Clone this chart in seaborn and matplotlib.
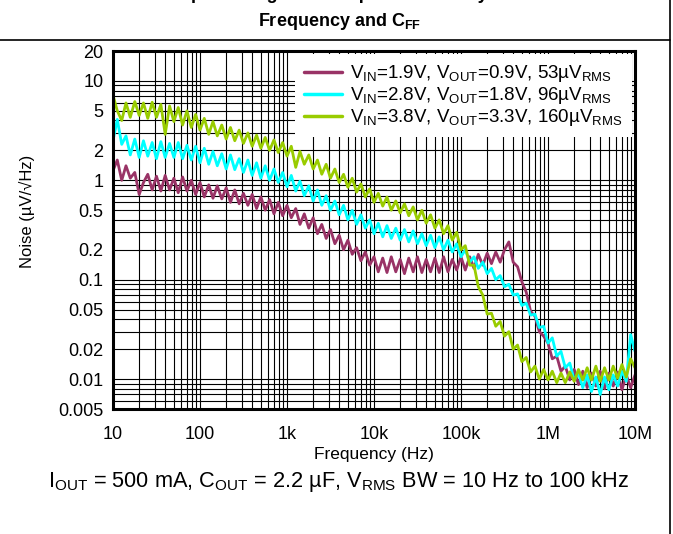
import numpy as np
import pandas as pd
import matplotlib
matplotlib.use("Agg")
import matplotlib.pyplot as plt
import seaborn as sns
from matplotlib.ticker import FixedLocator, FixedFormatter, LogLocator, NullFormatter
from matplotlib.lines import Line2D

# ---------------- data ----------------
freq_hz = [
    10, 11.2, 12.6, 14.1, 15.8, 17.8, 20, 22.4, 25.1, 28.2, 31.6, 35.5, 39.8, 44.7, 50.1, 56.2, 63.1, 70.8, 79.4, 89.1,
    100, 112, 126, 141, 158, 178, 200, 224, 251, 282, 316, 355, 398, 447, 501, 562, 631, 708, 794, 891,
    1.0e3, 1.12e3, 1.26e3, 1.41e3, 1.58e3, 1.78e3, 2.0e3, 2.24e3, 2.51e3, 2.82e3,
    3.16e3, 3.55e3, 3.98e3, 4.47e3, 5.01e3, 5.62e3, 6.31e3, 7.08e3, 7.94e3, 8.91e3,
    1.0e4, 1.12e4, 1.26e4, 1.41e4, 1.58e4, 1.78e4, 2.0e4, 2.24e4, 2.51e4, 2.82e4,
    3.16e4, 3.55e4, 3.98e4, 4.47e4, 5.01e4, 5.62e4, 6.31e4, 7.08e4, 7.94e4, 8.91e4,
    1.0e5, 1.12e5, 1.26e5, 1.41e5, 1.58e5, 1.78e5, 2.0e5, 2.24e5, 2.51e5, 2.82e5,
    3.16e5, 3.55e5, 3.98e5, 4.47e5, 5.01e5, 5.62e5, 6.31e5, 7.08e5, 7.94e5, 8.91e5,
    1.0e6, 1.12e6, 1.26e6, 1.41e6, 1.58e6, 1.78e6, 2.0e6, 2.24e6, 2.51e6, 2.82e6,
    3.16e6, 3.55e6, 3.98e6, 4.47e6, 5.01e6, 5.62e6, 6.31e6, 7.08e6, 7.94e6, 8.91e6,
    1.0e7,
]

noise_vout_0v9 = [
    1.25, 1.6, 1.0, 1.4, 1.05, 1.2, 0.72, 0.95, 1.15, 0.8, 1.1, 0.78, 1.12, 0.8, 1.05, 0.75, 1.08, 0.78, 1.0, 0.72,
    0.95, 0.68, 0.9, 0.66, 0.88, 0.65, 0.84, 0.6, 0.8, 0.58, 0.74, 0.56, 0.72, 0.52, 0.68, 0.5, 0.64, 0.46, 0.6, 0.44,
    0.56, 0.42, 0.52, 0.36, 0.46, 0.33, 0.42, 0.29, 0.36, 0.26, 0.32, 0.23, 0.28, 0.2, 0.25, 0.18, 0.21, 0.155, 0.19, 0.14,
    0.17, 0.12, 0.165, 0.118, 0.17, 0.12, 0.16, 0.115, 0.165, 0.12, 0.17, 0.118, 0.16, 0.12, 0.165, 0.118, 0.17, 0.12, 0.16, 0.125,
    0.17, 0.125, 0.17, 0.13, 0.18, 0.14, 0.185, 0.145, 0.19, 0.15, 0.2, 0.24, 0.15, 0.135, 0.095, 0.075, 0.048, 0.043, 0.03, 0.027,
    0.023, 0.016, 0.017, 0.012, 0.0135, 0.0098, 0.0125, 0.0088, 0.012, 0.0082, 0.0115, 0.0085, 0.012, 0.008, 0.0115, 0.0085, 0.0118, 0.0078, 0.011, 0.0082,
    0.011,
]

noise_vout_1v8 = [
    2.5, 4.1, 2.3, 2.8, 1.8, 2.6, 1.7, 2.5, 1.75, 2.4, 1.65, 2.45, 1.7, 2.35, 1.7, 2.4, 1.65, 2.25, 1.6, 2.2,
    1.5, 2.1, 1.45, 1.95, 1.4, 1.85, 1.3, 1.8, 1.28, 1.65, 1.2, 1.6, 1.12, 1.5, 1.05, 1.4, 1.0, 1.3, 0.95, 1.2,
    0.86, 1.12, 0.78, 0.98, 0.7, 0.88, 0.62, 0.8, 0.56, 0.7, 0.5, 0.62, 0.45, 0.56, 0.4, 0.5, 0.36, 0.45, 0.33, 0.4,
    0.29, 0.37, 0.27, 0.35, 0.26, 0.33, 0.25, 0.32, 0.24, 0.31, 0.23, 0.29, 0.22, 0.28, 0.21, 0.27, 0.2, 0.25, 0.19, 0.23,
    0.17, 0.2, 0.15, 0.17, 0.13, 0.15, 0.115, 0.13, 0.1, 0.11, 0.085, 0.09, 0.07, 0.072, 0.055, 0.058, 0.044, 0.045, 0.033, 0.034,
    0.023, 0.026, 0.017, 0.019, 0.013, 0.0145, 0.0098, 0.0115, 0.0082, 0.011, 0.0075, 0.0105, 0.007, 0.0105, 0.0078, 0.011, 0.0085, 0.012, 0.0095, 0.028,
    0.019,
]

noise_vout_3v3 = [
    7.2, 5.0, 4.0, 6.0, 4.3, 6.2, 4.5, 6.0, 4.2, 6.1, 4.3, 5.8, 2.9, 5.6, 3.9, 5.4, 3.6, 5.0, 3.4, 4.6,
    3.2, 4.2, 2.9, 3.9, 2.8, 3.6, 2.6, 3.4, 2.5, 3.2, 2.35, 3.0, 2.2, 2.85, 2.1, 2.7, 2.0, 2.55, 1.9, 2.4,
    1.75, 2.2, 1.35, 1.95, 1.45, 1.8, 1.3, 1.6, 1.15, 1.45, 1.05, 1.3, 0.95, 1.15, 0.85, 1.05, 0.76, 0.92, 0.68, 0.82,
    0.6, 0.74, 0.55, 0.68, 0.5, 0.62, 0.47, 0.58, 0.44, 0.54, 0.4, 0.5, 0.37, 0.45, 0.33, 0.4, 0.29, 0.35, 0.25, 0.3,
    0.2, 0.22, 0.14, 0.14, 0.085, 0.07, 0.045, 0.046, 0.034, 0.038, 0.027, 0.03, 0.02, 0.022, 0.015, 0.0165, 0.0118, 0.0135, 0.01, 0.0125,
    0.0098, 0.012, 0.0092, 0.0115, 0.0092, 0.0118, 0.0095, 0.0125, 0.0098, 0.013, 0.0098, 0.0135, 0.0095, 0.013, 0.0098, 0.0135, 0.0102, 0.014, 0.0105, 0.016,
    0.013,
]

series_labels = [
    r"$\mathrm{V_{IN}}$=1.9V, $\mathrm{V_{OUT}}$=0.9V, 53µ$\mathrm{V_{RMS}}$",
    r"$\mathrm{V_{IN}}$=2.8V, $\mathrm{V_{OUT}}$=1.8V, 96µ$\mathrm{V_{RMS}}$",
    r"$\mathrm{V_{IN}}$=3.8V, $\mathrm{V_{OUT}}$=3.3V, 160µ$\mathrm{V_{RMS}}$",
]
series_colors = ["#993366", "#00FFFF", "#99CC00"]

x_tick_values = [10, 100, 1e3, 1e4, 1e5, 1e6, 1e7]
x_tick_labels = ["10", "100", "1k", "10k", "100k", "1M", "10M"]
y_tick_values = [0.005, 0.01, 0.02, 0.05, 0.1, 0.2, 0.5, 1, 2, 5, 10, 20]
y_tick_labels = ["0.005", "0.01", "0.02", "0.05", "0.1", "0.2", "0.5", "1", "2", "5", "10", "20"]

# ---------------- style ----------------
sns.set_theme(style="white")
plt.rcParams["font.family"] = ["Liberation Sans", "DejaVu Sans"]
plt.rcParams["mathtext.fontset"] = "custom"
plt.rcParams["mathtext.rm"] = "Liberation Sans"
plt.rcParams["mathtext.it"] = "Liberation Sans:italic"
plt.rcParams["mathtext.bf"] = "Liberation Sans:bold"
plt.rcParams["text.color"] = "black"

df = pd.concat([
    pd.DataFrame({"freq": freq_hz, "noise": vals, "series": lab})
    for vals, lab in zip([noise_vout_0v9, noise_vout_1v8, noise_vout_3v3], series_labels)
], ignore_index=True)

W, H = 673, 534
fig = plt.figure(figsize=(W / 100, H / 100), dpi=100)
L, R, T, B = 113, 635, 51, 409
ax = fig.add_axes([L / W, 1 - B / H, (R - L) / W, (B - T) / H])

sns.lineplot(data=df, x="freq", y="noise", hue="series", hue_order=series_labels,
             palette=dict(zip(series_labels, series_colors)), linewidth=2.0,
             estimator=None, sort=False, ax=ax)

ax.set_xscale("log")
ax.set_yscale("log")
ax.set_xlim(10, 1e7)
ax.set_ylim(0.005, 20)

ax.xaxis.set_major_locator(FixedLocator(x_tick_values))
ax.xaxis.set_major_formatter(FixedFormatter(x_tick_labels))
ax.xaxis.set_minor_locator(LogLocator(base=10, subs=np.arange(2, 10), numticks=100))
ax.xaxis.set_minor_formatter(NullFormatter())
ax.yaxis.set_major_locator(FixedLocator(y_tick_values))
ax.yaxis.set_major_formatter(FixedFormatter(y_tick_labels))
ax.yaxis.set_minor_locator(LogLocator(base=10, subs=np.arange(1, 10), numticks=100))
ax.yaxis.set_minor_formatter(NullFormatter())

ax.grid(which="both", color="black", linewidth=0.8)
ax.set_axisbelow(True)
ax.tick_params(which="both", length=0, labelsize=13, colors="black")
ax.tick_params(axis="x", pad=12)
ax.tick_params(axis="y", pad=7)
for sp in ax.spines.values():
    sp.set_visible(True)
    sp.set_color("black")
    sp.set_linewidth(2.2)

ax.set_xlabel("Frequency (Hz)", fontsize=12.5, labelpad=3, color="black")
ax.set_ylabel("Noise (µV/√Hz)", fontsize=12, color="black")
ax.yaxis.set_label_coords(-0.150, 0.553)

handles, labels = ax.get_legend_handles_labels()
leg = ax.legend(handles, labels, loc="upper right", bbox_to_anchor=(1, 1),
                borderaxespad=0.15, frameon=True, fancybox=False, facecolor="white",
                edgecolor="none", framealpha=1, fontsize=13.5, handlelength=2.0,
                handletextpad=0.45, labelspacing=0.05, borderpad=0.5)
for h in leg.get_lines():
    h.set_linewidth(2.5)

# titles / notes
fig.text(0.5, 1 + 1.0 / H, "Output Voltage Noise Spectral Density vs", ha="center",
         va="baseline", fontsize=13, fontweight="bold")
fig.text(340 / W, 1 - 21 / H, r"Frequency and $\mathbf{C_{FF}}$", ha="center", va="center",
         fontsize=13, fontweight="bold")
fig.text(339 / W, 1 - 482 / H,
         r"$\mathrm{I_{OUT}}$ = 500 mA, $\mathrm{C_{OUT}}$ = 2.2 µF, $\mathrm{V_{RMS}}$ BW = 10 Hz to 100 kHz",
         ha="center", va="center", fontsize=15.7)

# frame lines of the figure panel
fig.add_artist(Line2D([0, 670 / W], [1 - 40 / H, 1 - 40 / H], transform=fig.transFigure,
                      color="black", linewidth=1.2))
fig.add_artist(Line2D([670 / W, 670 / W], [0, 1], transform=fig.transFigure,
                      color="black", linewidth=1.2))

fig.savefig("out.png", dpi=100)
